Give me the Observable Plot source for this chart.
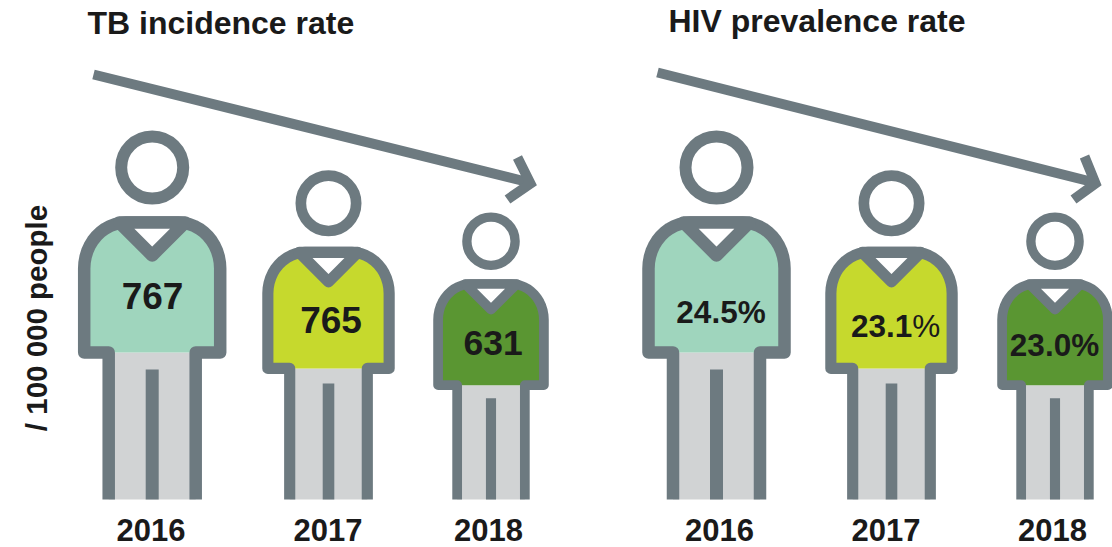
<!DOCTYPE html>
<html>
<head>
<meta charset="utf-8">
<script src="https://cdn.jsdelivr.net/npm/d3@7"></script>
<script src="https://cdn.jsdelivr.net/npm/@observablehq/plot@0.6"></script>
<style>html,body{margin:0;padding:0;background:#fff}svg{display:block}</style>
</head>
<body>
<div id="chart"></div>
<script>
// ---- data ----
const years = [2016, 2017, 2018];
const tbIncidence = [767, 765, 631];
const hivPrevalence = [24.5, 23.1, 23.0];
const panelTitles = ["TB incidence rate", "HIV prevalence rate"];
const yAxisLabel = "/ 100 000 people";

// ---- layout ----
const W = 1112, H = 547, ground = 499;
const personScale = [1, 0.892, 0.778];
const personX = [[151.7, 328, 490.5], [716, 891, 1054.5]];
const yearX = [[150.5, 327.5, 488], [719, 885.5, 1052]];
const valueX = [[152, 330.5, 492.5], [720.5, 850.4, 1054]];
const valueBaseline = [[308.5, 332.5, 354], [322.5, 336.5, 355.5]];
const valueSize = [[37, 37, 35.5], [31.5, 31.5, 31.5]];
const shirtColors = ["#9fd5bd", "#c6d92d", "#5a9632"];
const ink = "#6d7a80", trouser = "#d1d3d4", textColor = "#1a1a1a";
const font = "Liberation Sans";

// pictogram template: units are pixels of the tallest figure, u across, v above the ground
const arc = (cu, cv, ru, rv, a0, a1) => d3.range(0, 13).map(i => {
  const a = (a0 + (a1 - a0) * i / 12) * Math.PI / 180;
  return [cu + ru * Math.cos(a), cv + rv * Math.sin(a)];
});
const shoulderL = arc(-26, 231, 42, 46, 180, 90);
const shoulderR = arc(26, 231, 42, 46, 90, 0);
const shapes = {
  legs: {closed: true, pts: [[-43.5, 0], [-43.5, 147], [43.5, 147], [43.5, 0]]},
  shirt: {closed: true, pts: [[-68, 147], ...shoulderL, ...shoulderR, [68, 147]]},
  split: {width: 13, pts: [[0, 0], [0, 130]]},
  outline: {width: 12.5, pts: [[-43.5, 0], [-43.5, 147], [-68, 147], ...shoulderL, ...shoulderR, [68, 147], [43.5, 147], [43.5, 0]]},
  collar: {closed: true, width: 12.5, pts: [[-33, 277], [33, 277], [0, 244]]}
};
const head = {v: 332, r: 31, width: 12};

// the one label whose percent sign is set in regular weight in the source
const lightPercent = d => d.panel === 1 && d.value === 23.1;

const people = [tbIncidence, hivPrevalence].flatMap((vals, p) => vals.map((value, i) => ({
  panel: p, year: years[i], value, i, key: p + "-" + i,
  cx: personX[p][i], s: personScale[i]
})));
people.forEach(d => {
  d.label = d.panel === 0 ? String(d.value) : d.value.toFixed(1) + (lightPercent(d) ? "" : "%");
});

const place = name => people.flatMap(d => shapes[name].pts.map(([u, v]) => ({
  x: d.cx + d.s * u, y: ground - d.s * v, key: d.key, s: d.s, color: shirtColors[d.i]
})));

const arrows = [
  {a: [[93, 74], [529, 182]], b: [[517, 157], [530, 183], [507, 199]]},
  {a: [[657, 72], [1094, 182]], b: [[1084, 156], [1095, 183], [1073, 199]]}
];
const arrowRows = arrows.flatMap((ar, p) => [["a", ar.a], ["b", ar.b]].flatMap(([k, pts]) =>
  pts.map(([x, y]) => ({x, y, key: p + k}))));

const lineOpts = {x: "x", y: "y", z: "key", stroke: ink, strokeLinecap: "butt", strokeLinejoin: "round"};
const textOpts = {fill: textColor, lineAnchor: "bottom", fontFamily: font};

const plot = Plot.plot({
  width: W, height: H, margin: 0,
  x: {type: "linear", domain: [0, W], range: [0, W], axis: null},
  y: {type: "linear", domain: [0, H], range: [0, H], axis: null},
  r: {type: "identity"},
  style: {background: "#fff", fontFamily: font},
  marks: [
    Plot.line(place("legs"), {x: "x", y: "y", z: "key", fill: trouser, stroke: "none", curve: "linear-closed"}),
    Plot.line(place("shirt"), {x: "x", y: "y", z: "key", fill: "color", stroke: "none", curve: "linear-closed"}),
    Plot.line(place("split"), {...lineOpts, strokeWidth: d => d.s * shapes.split.width}),
    Plot.line(place("outline"), {...lineOpts, strokeWidth: d => d.s * shapes.outline.width}),
    Plot.line(place("collar"), {...lineOpts, fill: "#fff", curve: "linear-closed", strokeWidth: d => d.s * shapes.collar.width}),
    Plot.dot(people, {
      x: "cx", y: d => ground - d.s * head.v, r: d => d.s * head.r,
      fill: "none", stroke: ink, strokeWidth: d => d.s * head.width
    }),
    Plot.line(arrowRows, {x: "x", y: "y", z: "key", stroke: ink, strokeWidth: 10, strokeLinecap: "butt", strokeLinejoin: "miter", strokeMiterlimit: 4}),
    Plot.text(people.filter(d => !lightPercent(d)), {
      x: d => valueX[d.panel][d.i], y: d => valueBaseline[d.panel][d.i], text: "label",
      fontSize: d => valueSize[d.panel][d.i], fontWeight: 700, ...textOpts
    }),
    Plot.text(people.filter(lightPercent), {
      x: d => valueX[d.panel][d.i], y: d => valueBaseline[d.panel][d.i], text: "label", textAnchor: "start",
      fontSize: d => valueSize[d.panel][d.i], fontWeight: 700, ...textOpts
    }),
    Plot.text(people.filter(lightPercent), {
      x: d => valueX[d.panel][d.i], y: d => valueBaseline[d.panel][d.i], text: () => "%", textAnchor: "start", dx: 61.3,
      fontSize: d => valueSize[d.panel][d.i], fontWeight: 400, ...textOpts
    }),
    Plot.text(people, {
      x: d => yearX[d.panel][d.i], y: 540.4, text: d => String(d.year),
      fontSize: 31, fontWeight: 700, ...textOpts
    }),
    Plot.text(panelTitles, {
      x: [87, 668], y: [33, 31], text: d => d,
      textAnchor: "start", fontSize: 32, fontWeight: 700, ...textOpts
    }),
    Plot.text([yAxisLabel], {
      x: 46, y: 317.5, text: d => d, rotate: -90,
      fontSize: 29.5, fontWeight: 700, ...textOpts
    })
  ]
});
document.getElementById("chart").append(plot);
</script>
</body>
</html>
